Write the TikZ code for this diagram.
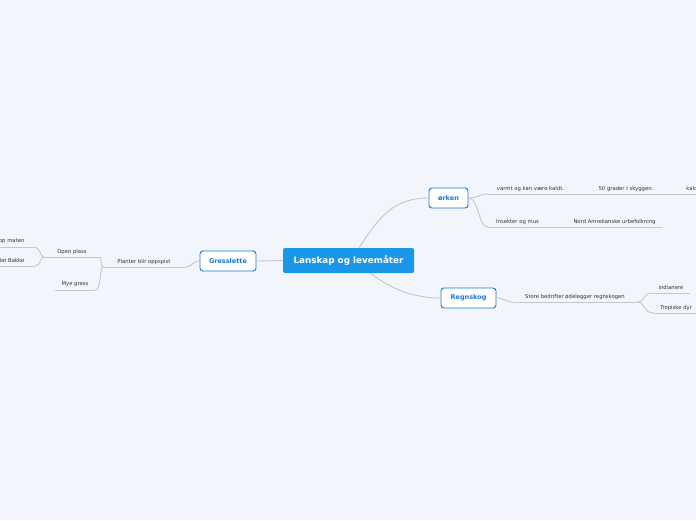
\documentclass[tikz,border=0pt]{standalone}
\usepackage{fontspec}
\setmainfont{DejaVu Sans}
\usetikzlibrary{positioning}
\definecolor{paper}{HTML}{F3F5FD}
\definecolor{hubblue}{HTML}{1A97E8}
\definecolor{topicblue}{HTML}{1A78DC}
\definecolor{linkgray}{HTML}{C3C7D1}
\definecolor{leaftext}{HTML}{333333}

\begin{document}
\begin{tikzpicture}[x=1pt, y=-1pt,
    hub/.style={rectangle, rounded corners=2pt, fill=hubblue, text=white, font=\fontsize{8.8}{10}\bfseries, minimum width=131, minimum height=25, inner sep=0pt},
    topic/.style={rectangle, rounded corners=3pt, draw=topicblue, line width=0.9pt, fill=white, text=topicblue, font=\fontsize{6.5}{7}\bfseries, minimum height=20, inner sep=0pt},
    leaf/.style={anchor=south, minimum width=#1, minimum height=10.5, inner sep=0pt, text=leaftext, font=\fontsize{5.3}{6}\selectfont},
    link/.style={draw=linkgray, line width=0.9pt},
    ]
    
    % Paper
    \fill[paper] (0,0) rectangle (696,520);
    \useasboundingbox (0,0) rectangle (696,520);
    
    % Central topic
    \node [hub] (hub) at (348.5,260.5) {Lanskap og levemåter};
    
    % Main topics
    \node [topic, minimum width=56] (gress) at (228,261) {Gresslette};
    \node [topic, minimum width=39] (orken) at (448.5,198) {ørken};
    \node [topic, minimum width=55] (regn) at (468.5,298) {Regnskog};
    
    % Leaves of ørken
    \node [leaf=85] (varmt) at (530.5,194) {varmt og kan være kaldt.};
    \node [leaf=72] (grader) at (626,194) {50 grader I skyggen.};
    \node [leaf=24] (kald) at (692,194) {kald};
    \node [leaf=59] (insekt) at (517.5,227) {Insekter og mus};
    \node [leaf=95] (nord) at (614.5,227) {Nord Amrekanske urbefolkning};
    
    % Leaves of Regnskog
    \node [leaf=124] (store) at (575,302) {Store bedrifter ødelegger regnskogen};
    \node [leaf=38] (indian) at (671,293) {indianere};
    \node [leaf=44] (tropisk) at (676,313) {Tropiske dyr};
    
    % Leaves of Gresslette
    \node [leaf=82] (planter) at (144,267) {Planter blir oppspist};
    \node [leaf=56] (open) at (72,257) {Open plass};
    \node [leaf=40] (mye) at (75,290) {Mye gress};
    \node [leaf=46] (opp) at (10,247) {opp maten};
    \node [leaf=49] (flat) at (10.5,266) {Flat Bakke};
    
    % Underlines
    \foreach \n in {varmt,grader,kald,insekt,nord,store,indian,tropisk,planter,open,mye,opp,flat}
        \draw [link] (\n.south west) -- (\n.south east);
    
    % Central links
    \draw [link] (hub.west) -- (gress.east);
    \draw [link] (hub.50) .. controls (380,215) and (395,198) .. (orken.west);
    \draw [link] (hub.-30) .. controls (392,290) and (415,298) .. (regn.west);
    
    % ørken
    \draw [link] (orken.east) .. controls (479,198) and (478,194) .. (varmt.south west);
    \draw [link] (orken.east) .. controls (479,198) and (478,227) .. (insekt.south west);
    \draw [link] (varmt.south east) -- (grader.south west);
    \draw [link] (grader.south east) -- (kald.south west);
    \draw [link] (insekt.south east) -- (nord.south west);
    
    % Regnskog
    \draw [link] (regn.east) .. controls (505,298) and (505,302) .. (store.south west);
    \draw [link] (store.south east) .. controls (645,302) and (643,293) .. (indian.south west);
    \draw [link] (store.south east) .. controls (645,302) and (643,313) .. (tropisk.south west);
    
    % Gresslette
    \draw [link] (gress.west) .. controls (192,261) and (193,267) .. (planter.south east);
    \draw [link] (planter.south west) .. controls (101,267) and (101,257) .. (open.south east);
    \draw [link] (planter.south west) .. controls (100,267) and (101,290) .. (mye.south east);
    \draw [link] (open.south west) .. controls (40,257) and (41,247) .. (opp.south east);
    \draw [link] (open.south west) .. controls (40,257) and (41,266) .. (flat.south east);

\end{tikzpicture}
\end{document}
